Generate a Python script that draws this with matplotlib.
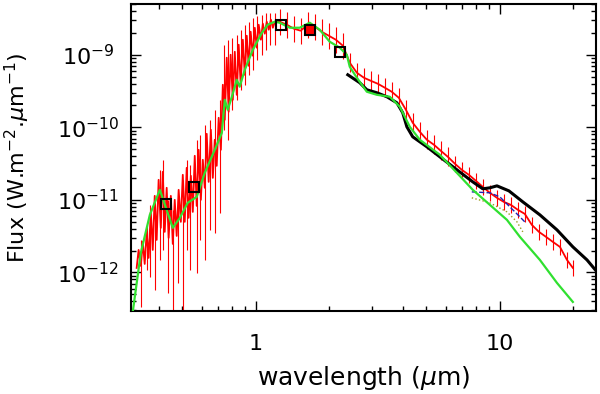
import numpy as np
import matplotlib
matplotlib.use("Agg")
import matplotlib.pyplot as plt
from matplotlib.ticker import LogLocator, NullFormatter, FixedLocator, FixedFormatter

plt.rcParams.update({"font.family": "DejaVu Sans", "font.size": 14})

# all values, in log10 units (wavelength in um, flux in W m-2 um-1)
# red observed spectrum, noisy optical part
red_noisy_lx = [-0.488, -0.480, -0.471, -0.463, -0.455, -0.447, -0.439, -0.430, -0.422, -0.414,
                -0.406, -0.398, -0.389, -0.381, -0.373, -0.365, -0.357, -0.348, -0.340, -0.332,
                -0.324, -0.316, -0.307, -0.299, -0.291, -0.283, -0.275, -0.266, -0.258, -0.250,
                -0.242, -0.234, -0.225, -0.217, -0.209, -0.201, -0.193, -0.184, -0.176, -0.168,
                -0.160, -0.152, -0.143, -0.135, -0.127, -0.119, -0.111, -0.103, -0.094, -0.086,
                -0.078, -0.070, -0.062, -0.053, -0.045, -0.037, -0.029, -0.021, -0.012, -0.004,
                0.004, 0.012, 0.021, 0.029, 0.037, 0.045, 0.053, 0.062, 0.070, 0.078]
red_noisy_ly = [-11.938, -11.690, -11.910, -11.579, -11.883, -11.441, -11.800, -11.166, -11.690, -10.945,
                -11.552, -10.724, -11.386, -10.614, -11.441, -10.834, -11.524, -10.945, -11.607, -11.0,
                -11.497, -10.862, -11.303, -10.655, -11.303, -10.559, -11.248, -10.669, -11.166, -10.393,
                -11.083, -10.310, -11.0, -10.448, -10.834, -10.090, -10.752, -10.034, -10.697, -10.172,
                -10.531, -9.869, -10.310, -9.414, -9.897, -9.041, -9.786, -9.0, -9.621, -8.959,
                -9.552, -8.862, -9.400, -8.793, -9.276, -8.738, -9.152, -8.683, -9.014, -8.628,
                -8.903, -8.586, -8.793, -8.572, -8.710, -8.545, -8.655, -8.517, -8.628, -8.545]
# error bars of the noisy part: position, top, bottom
bar_lx = [-0.471, -0.447, -0.434, -0.414, -0.393, -0.381, -0.361, -0.340, -0.320, -0.299,
          -0.283, -0.270, -0.242, -0.230, -0.209, -0.189, -0.168, -0.148, -0.131, -0.115,
          -0.098, -0.078, -0.061, -0.045, -0.029, -0.012, 0.004, 0.025, 0.041, 0.057, 0.078]
bar_top = [-11.552, -11.345, -11.069, -11.207, -10.586, -10.448, -11.0, -11.138, -11.0, -10.724,
           -10.448, -10.517, -10.172, -10.103, -9.966, -9.897, -9.759, -9.621, -8.862, -8.793,
           -8.766, -8.724, -8.655, -8.586, -8.545, -8.500, -8.470, -8.450, -8.430, -8.430, -8.430]
bar_bot = [-12.476, -11.966, -12.062, -12.241, -11.828, -11.690, -12.283, -12.7, -12.145, -12.7,
           -11.690, -11.966, -12.007, -11.552, -11.828, -11.414, -11.455, -11.179, -10.034, -10.172,
           -9.759, -9.621, -9.483, -9.414, -9.276, -9.207, -9.069, -9.0, -8.931, -8.862, -8.862]
# red spectrum, infrared part with symmetric errors (dex)
red_ir_lx = [0.098, 0.127, 0.156, 0.184, 0.213, 0.242, 0.270, 0.299, 0.328, 0.357,
             0.385, 0.414, 0.443, 0.471, 0.500, 0.529, 0.557, 0.586, 0.615, 0.643,
             0.672, 0.701, 0.730, 0.758, 0.787, 0.816, 0.844, 0.873, 0.902, 0.930,
             0.959, 0.988, 1.016, 1.045, 1.074, 1.102, 1.131, 1.160, 1.189, 1.217,
             1.246, 1.275, 1.299]
red_ir_ly = [-8.545, -8.586, -8.641, -8.669, -8.586, -8.614, -8.683, -8.738, -8.793, -8.876,
             -9.110, -9.248, -9.317, -9.359, -9.400, -9.455, -9.510, -9.593, -9.759, -9.938,
             -10.062, -10.172, -10.241, -10.324, -10.407, -10.503, -10.586, -10.655, -10.738, -10.821,
             -10.903, -10.972, -11.028, -11.069, -11.138, -11.193, -11.345, -11.441, -11.510, -11.579,
             -11.648, -11.828, -11.938]
red_ir_err = [0.18] * 10 + [0.13] * 15 + [0.11] * 18

# green model
green_lx = [-0.504, -0.471, -0.434, -0.393, -0.340, -0.311, -0.279, -0.242, -0.209, -0.168,
            -0.139, -0.127, -0.115, -0.098, -0.078, -0.066, -0.045, -0.012, 0.025, 0.049,
            0.078, 0.098, 0.139, 0.180, 0.221, 0.262, 0.303, 0.344, 0.373, 0.385,
            0.414, 0.455, 0.496, 0.549, 0.590, 0.631, 0.672, 0.754, 0.824, 0.889,
            0.959, 1.029, 1.082, 1.164, 1.234, 1.299]
green_ly = [-12.545, -11.731, -11.207, -10.862, -11.386, -11.248, -11.041, -10.959, -10.628, -10.310,
            -10.076, -9.621, -9.759, -9.579, -9.345, -9.441, -9.207, -8.931, -8.697, -8.586,
            -8.545, -8.559, -8.628, -8.628, -8.559, -8.655, -8.821, -8.903, -9.0, -9.166,
            -9.317, -9.510, -9.552, -9.579, -9.717, -9.993, -10.172, -10.379, -10.628, -10.862,
            -11.069, -11.276, -11.510, -11.828, -12.145, -12.407]

# black spectrum
black_lx = [0.377, 0.426, 0.455, 0.496, 0.537, 0.578, 0.602, 0.619, 0.643, 0.701,
            0.754, 0.824, 0.889, 0.930, 0.959, 0.988, 1.037, 1.094, 1.164, 1.234,
            1.299, 1.357, 1.398]
black_ly = [-9.276, -9.386, -9.483, -9.524, -9.579, -9.662, -9.800, -9.993, -10.131, -10.269,
            -10.407, -10.586, -10.752, -10.848, -10.834, -10.807, -10.876, -11.028, -11.207, -11.414,
            -11.648, -11.828, -11.993]

# blue dashed and olive dotted mid-IR spectra
blue_lx = [0.885, 0.959, 1.0, 1.041, 1.082, 1.102]
blue_ly = [-10.890, -10.903, -10.959, -11.097, -11.234, -11.303]
olive_lx = [0.885, 0.959, 1.029, 1.070, 1.094]
olive_ly = [-10.972, -11.041, -11.166, -11.303, -11.441]

# photometric points (open squares)
phot_lx = [-0.369, -0.254, 0.102, 0.221, 0.344]
phot_ly = [-11.055, -10.821, -8.586, -8.655, -8.959]
phot_face = ["none", "none", "none", "red", "none"]

p = lambda v: np.power(10.0, np.asarray(v, dtype=float))

fig = plt.figure(figsize=(6.0, 3.94), dpi=100)
ax = fig.add_axes([0.218, 0.211, 0.775, 0.779])

ax.vlines(p(bar_lx), p(bar_bot), p(bar_top), color="red", lw=0.8, zorder=2)
ax.errorbar(p(red_ir_lx), p(red_ir_ly),
            yerr=[p(red_ir_ly) - p(np.array(red_ir_ly) - red_ir_err),
                  p(np.array(red_ir_ly) + red_ir_err) - p(red_ir_ly)],
            fmt="none", ecolor="red", elinewidth=0.8, capsize=0, zorder=2)
ax.plot(p(red_noisy_lx + red_ir_lx), p(red_noisy_ly + red_ir_ly), color="red", lw=1.3, zorder=3)
ax.plot(p(black_lx), p(black_ly), color="black", lw=2.2, zorder=4)
ax.plot(p(blue_lx), p(blue_ly), color="#2020b0", lw=1.0, ls="--", zorder=4)
ax.plot(p(olive_lx), p(olive_ly), color="#9a9a20", lw=1.0, ls=":", zorder=4)
ax.plot(p(green_lx), p(green_ly), color="#30e030", lw=1.6, zorder=5)
for lx, ly, fc in zip(phot_lx, phot_ly, phot_face):
    ax.plot(p(lx), p(ly), marker="s", ms=7.5, mfc=fc, mec="black", mew=1.5, ls="none", zorder=6)

ax.set_xscale("log")
ax.set_yscale("log")
ax.set_xlim(10 ** -0.512, 10 ** 1.393)
ax.set_ylim(10 ** -12.53, 10 ** -8.30)

ax.xaxis.set_major_locator(FixedLocator([1, 10]))
ax.xaxis.set_major_formatter(FixedFormatter(["1", "10"]))
ax.xaxis.set_minor_locator(LogLocator(base=10, subs=np.arange(2, 10)))
ax.xaxis.set_minor_formatter(NullFormatter())
ax.yaxis.set_major_locator(FixedLocator([1e-12, 1e-11, 1e-10, 1e-9]))
ax.yaxis.set_major_formatter(FixedFormatter(["$10^{-12}$", "$10^{-11}$", "$10^{-10}$", "$10^{-9}$"]))
ax.yaxis.set_minor_locator(LogLocator(base=10, subs=np.arange(2, 10), numticks=20))
ax.yaxis.set_minor_formatter(NullFormatter())

ax.tick_params(which="both", direction="in", top=True, right=True, width=1.0)
ax.tick_params(which="major", length=7)
ax.tick_params(which="minor", length=3.5)
ax.tick_params(axis="x", pad=17, labelsize=16)
ax.tick_params(axis="y", pad=31, labelsize=16)
for lab in ax.get_yticklabels():
    lab.set_horizontalalignment("center")
for s in ax.spines.values():
    s.set_linewidth(1.5)

ax.set_xlabel("wavelength ($\\mu$m)", fontsize=18, va="center")
ax.set_ylabel("Flux (W.m$^{-2}$.$\\mu$m$^{-1}$)", fontsize=16, va="center")
ax.xaxis.set_label_coords(0.5, -0.218)
ax.yaxis.set_label_coords(-0.243, 0.5)

fig.savefig("out.png", dpi=100)
